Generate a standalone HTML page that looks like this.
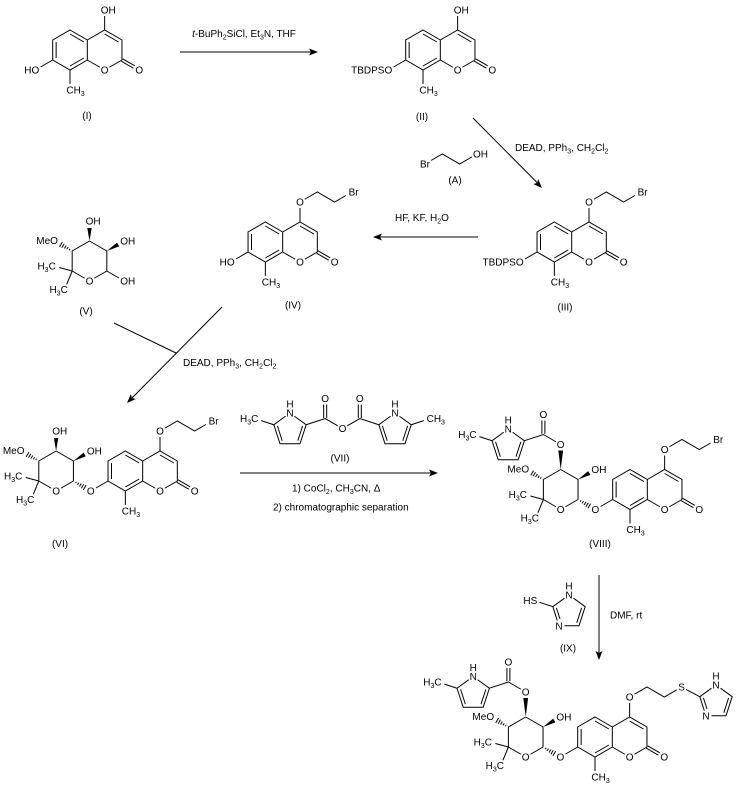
<!DOCTYPE html>
<html>
<head>
<meta charset="utf-8">
<style>
html,body{margin:0;padding:0;background:#fff;}
svg{display:block;}
.b{stroke:#000;stroke-width:1;fill:none;}
text{fill:#000;}
</style>
</head>
<body>
<svg width="742" height="790" viewBox="0 0 742 790" xmlns="http://www.w3.org/2000/svg" font-family="'Liberation Sans', Arial, sans-serif" font-size="10">
<rect width="742" height="790" fill="#fff"/>

<!-- ===== Compound I ===== -->
<g transform="translate(70,50)">
<path class="b" d="M0,-20L17.32,-10L17.32,10L0,20L-17.32,10L-17.32,-10Z M17.32,-10L34.64,-20L51.96,-10L51.96,10L39.4,17.25 M17.32,10L29.88,17.25 M0,-16L13.86,-8 M-13.86,-8L-13.86,8 M0,16L13.86,8 M34.64,-16L48.5,-8 M51.26,11.21L63.38,18.21 M52.66,8.79L64.78,15.79 M34.64,-20L34.64,-34 M-17.32,10L-29.4,17 M0,20L0,34"/>
<text x="30.74" y="-36.4">OH</text>
<text x="-30.74" y="23.6" text-anchor="end">HO</text>
<text x="34.64" y="23.6" text-anchor="middle">O</text>
<text x="69.28" y="23.6" text-anchor="middle">O</text>
<text x="-3.6" y="43.6">CH<tspan font-size="7" dy="2.5">3</tspan></text>
</g>
<text x="87" y="119" text-anchor="middle">(I)</text>

<!-- Arrow 1 -->
<path class="b" d="M180,52L312,52"/>
<polygon points="318,52 309,48.5 311,52 309,55.5" fill="#000"/>
<text x="244" y="37" text-anchor="middle"><tspan font-style="italic">t</tspan>-BuPh<tspan font-size="7" dy="2.5">2</tspan><tspan dy="-2.5">SiCl, Et</tspan><tspan font-size="7" dy="2.5">3</tspan><tspan dy="-2.5">N, THF</tspan></text>

<!-- ===== Compound II ===== -->
<g transform="translate(423,50)">
<path class="b" d="M0,-20L17.32,-10L17.32,10L0,20L-17.32,10L-17.32,-10Z M17.32,-10L34.64,-20L51.96,-10L51.96,10L39.4,17.25 M17.32,10L29.88,17.25 M0,-16L13.86,-8 M-13.86,-8L-13.86,8 M0,16L13.86,8 M34.64,-16L48.5,-8 M51.26,11.21L63.38,18.21 M52.66,8.79L64.78,15.79 M34.64,-20L34.64,-34 M-17.32,10L-29.4,17 M0,20L0,34"/>
<text x="30.74" y="-36.4">OH</text>
<text x="-30.74" y="23.6" text-anchor="end">TBDPSO</text>
<text x="34.64" y="23.6" text-anchor="middle">O</text>
<text x="69.28" y="23.6" text-anchor="middle">O</text>
<text x="-3.6" y="43.6">CH<tspan font-size="7" dy="2.5">3</tspan></text>
</g>
<text x="422" y="120" text-anchor="middle">(II)</text>

<!-- Arrow 2 (diagonal) -->
<path class="b" d="M473,118L538,183.5"/>
<polygon points="542,188 533.19,184.05 537.09,183.02 538.17,179.13" fill="#000"/>
<text x="515" y="151">DEAD, PPh<tspan font-size="7" dy="2.5">3</tspan><tspan dy="-2.5">, CH</tspan><tspan font-size="7" dy="2.5">2</tspan><tspan dy="-2.5">Cl</tspan><tspan font-size="7" dy="2.5">2</tspan></text>

<!-- Reagent A -->
<path class="b" d="M431,160.5L442.3,154L459.6,164L472.1,156.75"/>
<text x="425" y="167.6" text-anchor="middle">Br</text>
<text x="473" y="157.6">OH</text>
<text x="455" y="183.6" text-anchor="middle">(A)</text>

<!-- ===== Compound III ===== -->
<g transform="translate(554.36,242)">
<path class="b" d="M0,-20L17.32,-10L17.32,10L0,20L-17.32,10L-17.32,-10Z M17.32,-10L34.64,-20L51.96,-10L51.96,10L39.4,17.25 M17.32,10L29.88,17.25 M0,-16L13.86,-8 M-13.86,-8L-13.86,8 M0,16L13.86,8 M34.64,-16L48.5,-8 M51.26,11.21L63.38,18.21 M52.66,8.79L64.78,15.79 M34.64,-20L34.64,-34 M-17.32,10L-29.4,17 M0,20L0,34 M39.4,-42.75L51.96,-50L69.28,-40L80.54,-46.5"/>
<text x="34.64" y="-36.4" text-anchor="middle">O</text>
<text x="83.25" y="-46.4">Br</text>
<text x="-30.74" y="23.6" text-anchor="end">TBDPSO</text>
<text x="34.64" y="23.6" text-anchor="middle">O</text>
<text x="69.28" y="23.6" text-anchor="middle">O</text>
<text x="-3.6" y="43.6">CH<tspan font-size="7" dy="2.5">3</tspan></text>
</g>
<text x="565" y="310.6" text-anchor="middle">(III)</text>

<!-- Arrow 4 (leftward) -->
<path class="b" d="M478,237L379,237"/>
<polygon points="373,237 382,233.5 380,237 382,240.5" fill="#000"/>
<text x="395" y="221">HF, KF, H<tspan font-size="7" dy="2.5">2</tspan><tspan dy="-2.5">O</tspan></text>

<!-- ===== Compound IV ===== -->
<g transform="translate(265.36,242)">
<path class="b" d="M0,-20L17.32,-10L17.32,10L0,20L-17.32,10L-17.32,-10Z M17.32,-10L34.64,-20L51.96,-10L51.96,10L39.4,17.25 M17.32,10L29.88,17.25 M0,-16L13.86,-8 M-13.86,-8L-13.86,8 M0,16L13.86,8 M34.64,-16L48.5,-8 M51.26,11.21L63.38,18.21 M52.66,8.79L64.78,15.79 M34.64,-20L34.64,-34 M-17.32,10L-29.4,17 M0,20L0,34 M39.4,-42.75L51.96,-50L69.28,-40L80.54,-46.5"/>
<text x="34.64" y="-36.4" text-anchor="middle">O</text>
<text x="83.25" y="-46.4">Br</text>
<text x="-30.74" y="23.6" text-anchor="end">HO</text>
<text x="34.64" y="23.6" text-anchor="middle">O</text>
<text x="69.28" y="23.6" text-anchor="middle">O</text>
<text x="-3.6" y="43.6">CH<tspan font-size="7" dy="2.5">3</tspan></text>
</g>
<text x="293" y="308.6" text-anchor="middle">(IV)</text>

<!-- ===== Compound V (sugar) ===== -->
<g transform="translate(89.5,261)">
<path class="b" d="M0,-20L17.32,-10L17.32,10L4.76,17.25 M-4.76,17.25L-17.32,10L-17.32,-10L0,-20 M-17.32,10L-30.3,6.5 M-17.32,10L-22.8,23.3 M17.32,10L29.4,17"/>
<path class="b" d="M-19.52,-12.19L-20.32,-10.81 M-21.43,-13.88L-22.73,-11.62 M-23.35,-15.56L-25.15,-12.44 M-25.26,-17.24L-27.56,-13.26 M-27.18,-18.92L-29.98,-14.08"/>
<polygon points="17.32,-10 29.68,-14.59 27.48,-18.41" fill="#000"/>
<polygon points="0,-20 2.2,-33 -2.2,-33" fill="#000"/>
<text x="0" y="23.6" text-anchor="middle">O</text>
<text x="-3.9" y="-36.4">OH</text>
<text x="30.74" y="-16.4">OH</text>
<text x="30.74" y="23.6">OH</text>
<text x="-31.6" y="-16.9" text-anchor="end">MeO</text>
<text x="-33.7" y="8.3" text-anchor="end">H<tspan font-size="7" dy="2.5">3</tspan><tspan dy="-2.5">C</tspan></text>
<text x="-21.7" y="32.1" text-anchor="end">H<tspan font-size="7" dy="2.5">3</tspan><tspan dy="-2.5">C</tspan></text>
</g>
<text x="86" y="314.6" text-anchor="middle">(V)</text>

<!-- Arrow 5 (V + IV -> VI) -->
<path class="b" d="M114,323L176,353 M222,307L131,399"/>
<polygon points="127,403 135.82,399.06 131.92,398.02 130.84,394.14" fill="#000"/>
<text x="183" y="366">DEAD, PPh<tspan font-size="7" dy="2.5">3</tspan><tspan dy="-2.5">, CH</tspan><tspan font-size="7" dy="2.5">2</tspan><tspan dy="-2.5">Cl</tspan><tspan font-size="7" dy="2.5">2</tspan></text>

<!-- ===== Compound VI ===== -->
<g transform="translate(125.36,471)">
<path class="b" d="M0,-20L17.32,-10L17.32,10L0,20L-17.32,10L-17.32,-10Z M17.32,-10L34.64,-20L51.96,-10L51.96,10L39.4,17.25 M17.32,10L29.88,17.25 M0,-16L13.86,-8 M-13.86,-8L-13.86,8 M0,16L13.86,8 M34.64,-16L48.5,-8 M51.26,11.21L63.38,18.21 M52.66,8.79L64.78,15.79 M34.64,-20L34.64,-34 M-17.32,10L-29.4,17 M0,20L0,34 M39.4,-42.75L51.96,-50L69.28,-40L80.54,-46.5"/>
<text x="34.64" y="-36.4" text-anchor="middle">O</text>
<text x="83.25" y="-46.4">Br</text>
<text x="-34.64" y="23.6" text-anchor="middle">O</text>
<text x="34.64" y="23.6" text-anchor="middle">O</text>
<text x="69.28" y="23.6" text-anchor="middle">O</text>
<text x="-3.6" y="43.6">CH<tspan font-size="7" dy="2.5">3</tspan></text>
</g>
<g transform="translate(56.1,471)">
<path class="b" d="M0,-20L17.32,-10L17.32,10L4.76,17.25 M-4.76,17.25L-17.32,10L-17.32,-10L0,-20 M-17.32,10L-30.3,6.5 M-17.32,10L-22.8,23.3"/>
<path class="b" d="M-19.52,-12.19L-20.32,-10.81 M-21.43,-13.88L-22.73,-11.62 M-23.35,-15.56L-25.15,-12.44 M-25.26,-17.24L-27.56,-13.26 M-27.18,-18.92L-29.98,-14.08"/>
<path class="b" d="M19.52,12.19L20.32,10.81 M21.43,13.88L22.73,11.62 M23.35,15.56L25.15,12.44 M25.26,17.24L27.56,13.26 M27.18,18.92L29.98,14.08"/>
<polygon points="17.32,-10 29.68,-14.59 27.48,-18.41" fill="#000"/>
<polygon points="0,-20 2.2,-33 -2.2,-33" fill="#000"/>
<text x="0" y="23.6" text-anchor="middle">O</text>
<text x="-3.9" y="-36.4">OH</text>
<text x="30.74" y="-16.4">OH</text>
<text x="-31.6" y="-16.9" text-anchor="end">MeO</text>
<text x="-33.7" y="8.3" text-anchor="end">H<tspan font-size="7" dy="2.5">3</tspan><tspan dy="-2.5">C</tspan></text>
<text x="-21.7" y="32.1" text-anchor="end">H<tspan font-size="7" dy="2.5">3</tspan><tspan dy="-2.5">C</tspan></text>
</g>
<text x="60" y="547" text-anchor="middle">(VI)</text>

<!-- ===== Reagent VII ===== -->
<path class="b" d="M294.45,416.23L306.18,424.74L300,443.76L280,443.76L273.82,424.74L285.55,416.23 M302.62,425.9L297.8,440.73 M282.2,440.73L277.38,425.9 M273.82,424.74L261.2,420.6 M306.18,424.74L325.18,418.54L337.74,425.79 M347.26,425.79L359.82,418.54L378.82,424.74 M323.68,418L323.68,404.5 M326.68,418L326.68,404.5 M358.32,418L358.32,404.5 M361.32,418L361.32,404.5 M390.55,416.23L378.82,424.74L385,443.76L405,443.76L411.18,424.74L399.45,416.23 M382.38,425.9L387.2,440.73 M402.8,440.73L407.62,425.9 M411.18,424.74L423.8,420.6"/>
<text x="290" y="416.6" text-anchor="middle">N</text>
<text x="290" y="407.6" text-anchor="middle">H</text>
<text x="395" y="416.6" text-anchor="middle">N</text>
<text x="395" y="407.6" text-anchor="middle">H</text>
<text x="258.4" y="422.1" text-anchor="end">H<tspan font-size="7" dy="2.5">3</tspan><tspan dy="-2.5">C</tspan></text>
<text x="426.6" y="422.1">CH<tspan font-size="7" dy="2.5">3</tspan></text>
<text x="325.18" y="402.1" text-anchor="middle">O</text>
<text x="359.82" y="402.1" text-anchor="middle">O</text>
<text x="342.5" y="432.1" text-anchor="middle">O</text>
<text x="340" y="461.6" text-anchor="middle">(VII)</text>

<!-- Arrow 6 -->
<path class="b" d="M240,473L432,473"/>
<polygon points="438,473 429,469.5 431,473 429,476.5" fill="#000"/>
<text x="292" y="491.6">1) CoCl<tspan font-size="7" dy="2.5">2</tspan><tspan dy="-2.5">, CH</tspan><tspan font-size="7" dy="2.5">3</tspan><tspan dy="-2.5">CN, Δ</tspan></text>
<text x="273" y="510.6">2) chromatographic separation</text>

<!-- ===== Compound VIII ===== -->
<g transform="translate(630,489.5)">
<path class="b" d="M0,-20L17.32,-10L17.32,10L0,20L-17.32,10L-17.32,-10Z M17.32,-10L34.64,-20L51.96,-10L51.96,10L39.4,17.25 M17.32,10L29.88,17.25 M0,-16L13.86,-8 M-13.86,-8L-13.86,8 M0,16L13.86,8 M34.64,-16L48.5,-8 M51.26,11.21L63.38,18.21 M52.66,8.79L64.78,15.79 M34.64,-20L34.64,-34 M-17.32,10L-29.4,17 M0,20L0,34 M39.4,-42.75L51.96,-50L69.28,-40L80.54,-46.5"/>
<text x="34.64" y="-36.4" text-anchor="middle">O</text>
<text x="83.25" y="-46.4">Br</text>
<text x="-34.64" y="23.6" text-anchor="middle">O</text>
<text x="34.64" y="23.6" text-anchor="middle">O</text>
<text x="69.28" y="23.6" text-anchor="middle">O</text>
<text x="-3.6" y="43.6">CH<tspan font-size="7" dy="2.5">3</tspan></text>
</g>
<g transform="translate(560.7,489.5)">
<path class="b" d="M0,-20L17.32,-10L17.32,10L4.76,17.25 M-4.76,17.25L-17.32,10L-17.32,-10L0,-20 M-17.32,10L-30.3,6.5 M-17.32,10L-22.8,23.3"/>
<path class="b" d="M-19.52,-12.19L-20.32,-10.81 M-21.43,-13.88L-22.73,-11.62 M-23.35,-15.56L-25.15,-12.44 M-25.26,-17.24L-27.56,-13.26 M-27.18,-18.92L-29.98,-14.08"/>
<path class="b" d="M19.52,12.19L20.32,10.81 M21.43,13.88L22.73,11.62 M23.35,15.56L25.15,12.44 M25.26,17.24L27.56,13.26 M27.18,18.92L29.98,14.08"/>
<polygon points="17.32,-10 29.68,-14.59 27.48,-18.41" fill="#000"/>
<polygon points="0,-20 2.4,-39 -2.4,-39" fill="#000"/>
<path class="b" d="M-4.76,-47.75L-17.32,-55L-36.32,-48.8 M-18.82,-55.8L-18.82,-69 M-15.82,-55.8L-15.82,-69 M-48.05,-57.27L-36.32,-48.76L-42.5,-29.74L-62.5,-29.74L-68.68,-48.76L-56.95,-57.27 M-39.88,-47.6L-44.7,-32.77 M-60.3,-32.77L-65.12,-47.6 M-68.68,-48.76L-81.3,-52.9"/>
<text x="0" y="23.6" text-anchor="middle">O</text>
<text x="0" y="-41.4" text-anchor="middle">O</text>
<text x="-17.32" y="-71.4" text-anchor="middle">O</text>
<text x="-52.5" y="-56.9" text-anchor="middle">N</text>
<text x="-52.5" y="-65.9" text-anchor="middle">H</text>
<text x="-84.1" y="-51.4" text-anchor="end">H<tspan font-size="7" dy="2.5">3</tspan><tspan dy="-2.5">C</tspan></text>
<text x="30.74" y="-16.4">OH</text>
<text x="-31.6" y="-16.9" text-anchor="end">MeO</text>
<text x="-33.7" y="8.3" text-anchor="end">H<tspan font-size="7" dy="2.5">3</tspan><tspan dy="-2.5">C</tspan></text>
<text x="-21.7" y="32.1" text-anchor="end">H<tspan font-size="7" dy="2.5">3</tspan><tspan dy="-2.5">C</tspan></text>
</g>
<text x="600" y="547" text-anchor="middle">(VIII)</text>

<!-- ===== Reagent IX ===== -->
<path class="b" d="M539.5,602.3L552.8,606.7L557.3,620.6 M552.8,606.7L564.5,598.2 M573.5,598.2L585.2,606.7L579,625.8L564.5,625.8 M556.4,607.9L560,619 M576.8,622.8L581.6,607.9"/>
<text x="537.3" y="604.1" text-anchor="end">HS</text>
<text x="569" y="598.6" text-anchor="middle">N</text>
<text x="569" y="589.6" text-anchor="middle">H</text>
<text x="559" y="629.4" text-anchor="middle">N</text>
<text x="568" y="651.6" text-anchor="middle">(IX)</text>

<!-- Arrow 7 (vertical) -->
<path class="b" d="M599,575L599,654"/>
<polygon points="599,660 595.5,651 599,653 602.5,651" fill="#000"/>
<text x="610" y="618.6">DMF, rt</text>

<!-- ===== Final compound ===== -->
<g transform="translate(595,737)">
<path class="b" d="M0,-20L17.32,-10L17.32,10L0,20L-17.32,10L-17.32,-10Z M17.32,-10L34.64,-20L51.96,-10L51.96,10L39.4,17.25 M17.32,10L29.88,17.25 M0,-16L13.86,-8 M-13.86,-8L-13.86,8 M0,16L13.86,8 M34.64,-16L48.5,-8 M51.26,11.21L63.38,18.21 M52.66,8.79L64.78,15.79 M34.64,-20L34.64,-34 M-17.32,10L-29.4,17 M0,20L0,34 M39.4,-42.75L51.96,-50L69.28,-40L81.8,-47.2"/>
<text x="34.64" y="-36.4" text-anchor="middle">O</text>
<text x="86.6" y="-46.4" text-anchor="middle">S</text>
<text x="-34.64" y="23.6" text-anchor="middle">O</text>
<text x="34.64" y="23.6" text-anchor="middle">O</text>
<text x="69.28" y="23.6" text-anchor="middle">O</text>
<text x="-3.6" y="43.6">CH<tspan font-size="7" dy="2.5">3</tspan></text>
</g>
<path class="b" d="M686,689.4L699.8,696.7 M711.5,688.2L699.8,696.7L704.3,710.6 M711.5,715.8L726,715.8L732.2,696.7L720.5,688.2 M703.4,697.9L707,709 M723.8,712.8L728.6,697.9"/>
<text x="716" y="688.6" text-anchor="middle">N</text>
<text x="716" y="679.6" text-anchor="middle">H</text>
<text x="706" y="719.4" text-anchor="middle">N</text>
<g transform="translate(525.7,737)">
<path class="b" d="M0,-20L17.32,-10L17.32,10L4.76,17.25 M-4.76,17.25L-17.32,10L-17.32,-10L0,-20 M-17.32,10L-30.3,6.5 M-17.32,10L-22.8,23.3"/>
<path class="b" d="M-19.52,-12.19L-20.32,-10.81 M-21.43,-13.88L-22.73,-11.62 M-23.35,-15.56L-25.15,-12.44 M-25.26,-17.24L-27.56,-13.26 M-27.18,-18.92L-29.98,-14.08"/>
<path class="b" d="M19.52,12.19L20.32,10.81 M21.43,13.88L22.73,11.62 M23.35,15.56L25.15,12.44 M25.26,17.24L27.56,13.26 M27.18,18.92L29.98,14.08"/>
<polygon points="17.32,-10 29.68,-14.59 27.48,-18.41" fill="#000"/>
<polygon points="0,-20 2.4,-39 -2.4,-39" fill="#000"/>
<path class="b" d="M-4.76,-47.75L-17.32,-55L-36.32,-48.8 M-18.82,-55.8L-18.82,-69 M-15.82,-55.8L-15.82,-69 M-48.05,-57.27L-36.32,-48.76L-42.5,-29.74L-62.5,-29.74L-68.68,-48.76L-56.95,-57.27 M-39.88,-47.6L-44.7,-32.77 M-60.3,-32.77L-65.12,-47.6 M-68.68,-48.76L-81.3,-52.9"/>
<text x="0" y="23.6" text-anchor="middle">O</text>
<text x="0" y="-41.4" text-anchor="middle">O</text>
<text x="-17.32" y="-71.4" text-anchor="middle">O</text>
<text x="-52.5" y="-56.9" text-anchor="middle">N</text>
<text x="-52.5" y="-65.9" text-anchor="middle">H</text>
<text x="-84.1" y="-51.4" text-anchor="end">H<tspan font-size="7" dy="2.5">3</tspan><tspan dy="-2.5">C</tspan></text>
<text x="30.74" y="-16.4">OH</text>
<text x="-31.6" y="-16.9" text-anchor="end">MeO</text>
<text x="-33.7" y="8.3" text-anchor="end">H<tspan font-size="7" dy="2.5">3</tspan><tspan dy="-2.5">C</tspan></text>
<text x="-21.7" y="32.1" text-anchor="end">H<tspan font-size="7" dy="2.5">3</tspan><tspan dy="-2.5">C</tspan></text>
</g>

</svg>
</body>
</html>
